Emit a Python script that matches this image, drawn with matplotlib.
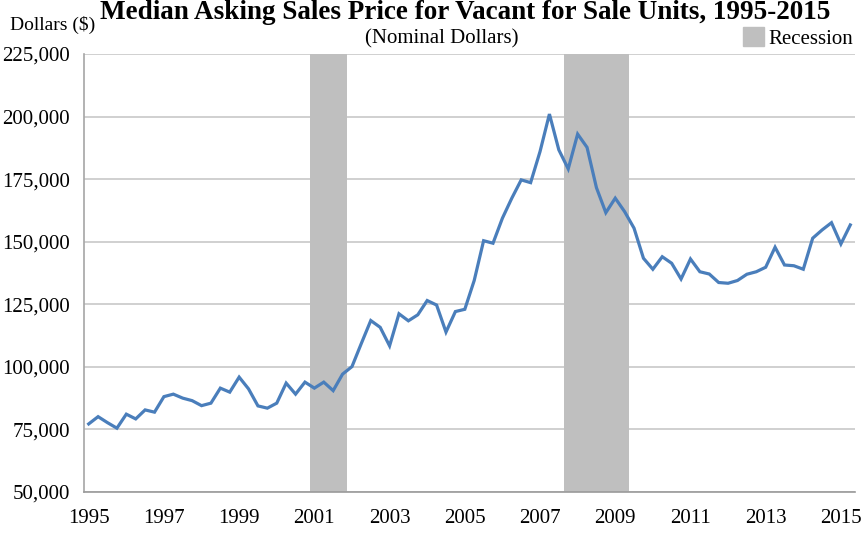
import numpy as np
import matplotlib
matplotlib.use('Agg')
import matplotlib.pyplot as plt
from matplotlib.patches import Patch
from matplotlib.ticker import FuncFormatter

plt.rcParams['font.family'] = ['Liberation Serif', 'DejaVu Serif']

# Quarterly median asking price, 1995Q1 - 2015Q2
price = [77200, 80100, 77700, 75500, 81100, 79200, 82800, 81900,
         88100, 89100, 87500, 86500, 84500, 85500, 91500, 89900,
         95900, 91200, 84400, 83500, 85500, 93500, 89100, 93900,
         91500, 93900, 90500, 97100, 100100, 109400, 118500, 115800,
         108400, 121200, 118400, 120800, 126500, 124700, 113900, 122100,
         123000, 134500, 150400, 149400, 159400, 167400, 174700, 173600,
         186000, 201000, 186700, 179100, 193000, 187700, 171600, 161600,
         167400, 162000, 155400, 143400, 139000, 144000, 141400, 135100,
         143100, 138000, 137100, 133700, 133400, 134500, 137000, 138000,
         139800, 147800, 140700, 140400, 139000, 151400, 154700, 157600,
         149100, 156700]
quarter = np.arange(len(price))

year_labels = [str(y) for y in range(1995, 2016, 2)]
year_ticks = [(int(y) - 1995) * 4 for y in year_labels]

# recessions as quarter index ranges (2001Q1-2001Q4, 2007Q4-2009Q2)
rec_start = [24, 51]
rec_end = [27, 57]

fig = plt.figure(figsize=(8.64, 5.37), dpi=100)
ax = fig.add_axes([84/864, 1-492/537, (855-84)/864, (492-54)/537])

for s, e in zip(rec_start, rec_end):
    ax.axvspan(s - 0.5, e + 0.5, color='#BFBFBF', lw=0, zorder=2)

ax.plot(quarter, price, color='#4A7EBB', lw=2.3, zorder=3, solid_joinstyle='miter')

ax.set_xlim(-0.5, len(price) - 0.5)
ax.set_ylim(50000, 225000)
ax.set_yticks(np.arange(50000, 225001, 25000))
ax.yaxis.set_major_formatter(FuncFormatter(lambda v, p: f'{int(v):,}'))
ax.set_xticks(year_ticks)
ax.set_xticklabels(year_labels)
ax.tick_params(axis='both', length=0, labelsize=15)
ax.tick_params(axis='x', pad=12)
ax.tick_params(axis='y', pad=10)
ax.grid(axis='y', color='#C8C8C8', lw=1.2, zorder=1)
ax.set_axisbelow(True)
for sp in ['top', 'right']:
    ax.spines[sp].set_visible(False)
ax.spines['left'].set_color('#A6A6A6')
ax.spines['bottom'].set_color('#9A9A9A')
ax.spines['left'].set_linewidth(1.2)
ax.spines['bottom'].set_linewidth(1.2)

fig.text(465/864, 1 - 19/537, 'Median Asking Sales Price for Vacant for Sale Units, 1995-2015',
         ha='center', va='baseline', fontsize=19.5, fontweight='bold')
fig.text(10/864, 1 - 25/537, 'Dollars ($)', ha='left', va='center', fontsize=14)
fig.text(442/864, 1 - 39/537, '(Nominal Dollars)', ha='center', va='center', fontsize=15)

fig.legend(handles=[Patch(color='#BFBFBF')], labels=['Recession'],
           loc='center left', bbox_to_anchor=(743/864, 1 - 38/537),
           frameon=False, fontsize=15, handlelength=1.0, handleheight=1.0,
           handletextpad=0.2, borderpad=0, borderaxespad=0)

fig.savefig('out.png', dpi=100)
